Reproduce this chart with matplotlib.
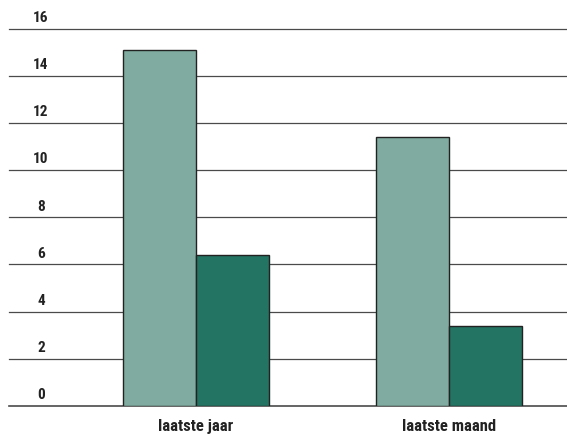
import matplotlib.pyplot as plt
import numpy as np

categories = ["laatste jaar", "laatste maand"]
series_a = [15.1, 11.4]
series_b = [6.4, 3.4]
yticks = [0, 2, 4, 6, 8, 10, 12, 14, 16]

plt.rcParams["font.family"] = ["Roboto Condensed", "DejaVu Sans"]

fig = plt.figure(figsize=(5.67, 4.35), dpi=100)
ax = fig.add_axes([9 / 567, 1 - 407 / 435, 558 / 567, (407 - 29.5) / 435])

x = np.arange(len(categories))
w = 0.288
ax.bar(x - w / 2, series_a, w, color="#80aba0", edgecolor="#222222", linewidth=1, zorder=3)
ax.bar(x + w / 2, series_b, w, color="#237462", edgecolor="#222222", linewidth=1, zorder=3)

for t in yticks:
    ax.axhline(t, color="#4a4a4a", linewidth=1.2 if t == 0 else 0.9, zorder=1, clip_on=False)
    ax.text((41 - 9) / 558, t + 0.2, str(t), transform=ax.get_yaxis_transform(),
            ha="center", va="bottom", fontsize=11, fontweight="bold", color="#222222")

ax.set_xlim((9 - 196) / 253, (567 - 196) / 253)
ax.set_ylim(0, 16)
ax.set_xticks(x)
ax.set_xticklabels(categories, fontsize=12, fontweight="bold", color="#222222")
ax.tick_params(axis="x", length=0, pad=9)
ax.set_yticks([])
for s in ax.spines.values():
    s.set_visible(False)

fig.savefig("out.png", dpi=100)
